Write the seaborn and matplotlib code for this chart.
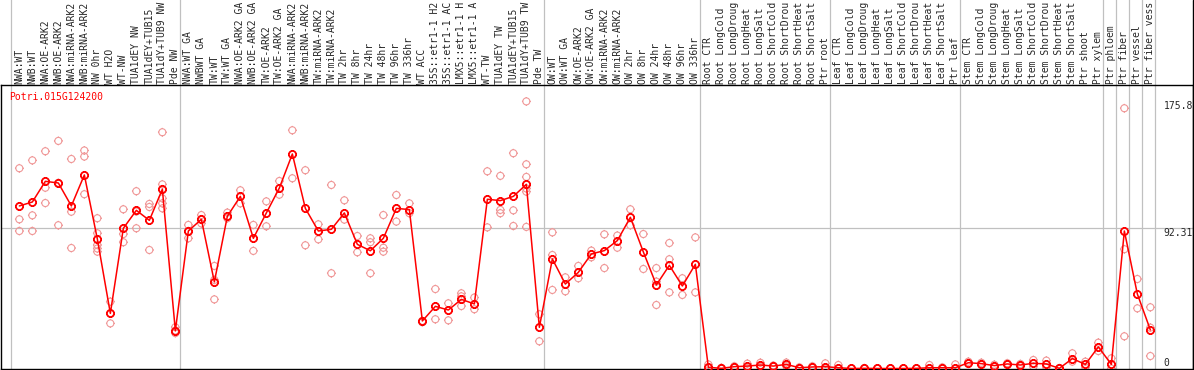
import matplotlib
matplotlib.use("Agg")
import matplotlib.pyplot as plt
import matplotlib.transforms as mtransforms
from matplotlib.path import Path
from matplotlib.lines import Line2D
import seaborn as sns
import pandas as pd

gene = "Potri.015G124200"

labels = ["NWA:WT", "NWB:WT", "NWA:OE-ARK2", "NWB:OE-ARK2", "NWA:miRNA-ARK2", "NWB:miRNA-ARK2",
          "NW 0hr", "WT H2O", "WT-NW", "TUA1dEY NW", "TUA1dEY+TUB15", "TUA1dY+TUB9 NW", "Pde NW",
          "NWA:WT GA", "NWBWT GA", "TW:WT", "TW:WT GA", "NWA:OE-ARK2 GA", "NWB:OE-ARK2 GA",
          "TW:OE-ARK2", "TW:OE-ARK2 GA", "NWA:miRNA-ARK2", "NWB:miRNA-ARK2", "TW:miRNA-ARK2",
          "TW:miRNA-ARK2", "TW 2hr", "TW 8hr", "TW 24hr", "TW 48hr", "TW 96hr", "TW 336hr",
          "WT ACC", "35S::etr1-1 H2", "35S::etr1-1 AC", "LMX5::etr1-1 H", "LMX5::etr1-1 A",
          "WT-TW", "TUA1dEY TW", "TUA1dEY+TUB15", "TUA1dY+TUB9 TW", "Pde TW",
          "OW:WT", "OW:WT GA", "OW:OE-ARK2", "OW:OE-ARK2 GA", "OW:miRNA-ARK2", "OW:miRNA-ARK2",
          "OW 2hr", "OW 8hr", "OW 24hr", "OW 48hr", "OW 96hr", "OW 336hr",
          "Root CTR", "Root LongCold", "Root LongDroug", "Root LongHeat", "Root LongSalt",
          "Root ShortCold", "Root ShortDrou", "Root ShortHeat", "Root ShortSalt", "Ptr root",
          "Leaf CTR", "Leaf LongCold", "Leaf LongDroug", "Leaf LongHeat", "Leaf LongSalt",
          "Leaf ShortCold", "Leaf ShortDrou", "Leaf ShortHeat", "Leaf ShortSalt", "Ptr leaf",
          "Stem CTR", "Stem LongCold", "Stem LongDroug", "Stem LongHeat", "Stem LongSalt",
          "Stem ShortCold", "Stem ShortDrou", "Stem ShortHeat", "Stem ShortSalt", "Ptr shoot",
          "Ptr xylem", "Ptr phloem", "Ptr fiber", "Ptr vessel", "Ptr fiber vess"]

means = [107.0, 109.6, 123.2, 122.1, 107.0, 127.4, 85.2, 36.3, 92.3, 104.1, 97.5, 118.0, 24.9,
         90.5, 98.2, 57.0, 100.2, 113.3, 85.7, 102.4, 118.8, 141.2, 105.4, 90.5, 91.6, 102.4,
         81.7, 77.5, 85.7, 105.4, 104.6, 31.3, 40.9, 38.5, 45.5, 42.5, 111.4, 110.5, 113.3,
         121.2, 27.1,
         72.1, 55.6, 63.3, 75.4, 77.6, 84.2, 99.5, 76.7, 55.0, 67.9, 54.3, 68.6,
         0.8, 0.1, 1.2, 1.6, 2.3, 1.6, 2.7, 0.5, 1.0, 1.2,
         0.5, 0.0, 0.1, 0.0, 0.0, 0.0, 0.1, 0.5, 0.5, 0.5,
         3.8, 3.2, 1.9, 3.0, 2.3, 3.4, 3.0, 0.1, 6.5, 2.7,
         14.2, 2.7, 90.5, 49.0, 25.4]

replicates = [[131.8, 98.2, 90.5], [137.0, 100.8, 90.5], [143.0, 119.0, 108.9],
              [149.8, 122.2, 94.3], [137.9, 103.2, 79.3], [143.5, 139.5, 114.7],
              [98.9, 89.0, 81.3, 79.0, 76.9], [44.0, 36.3, 29.7], [104.8, 88.5, 83.1],
              [116.7, 103.3, 92.3], [108.3, 106.3, 78.0],
              [155.5, 121.2, 118.0, 112.0, 108.7, 105.4], [27.2, 25.0, 23.3],
              [94.5, 85.7, 90.5], [101.0, 95.5, 98.2], [67.5, 58.3, 45.5], [102.6, 98.9],
              [117.3, 108.7], [94.5, 77.4], [110.0, 93.6], [123.4, 114.4], [156.8, 125.2],
              [130.5, 81.1], [94.9, 85.0], [120.8, 62.7], [110.7, 98.0], [87.2, 76.5],
              [85.7, 83.1, 62.7], [101.0, 79.5, 76.9], [114.2, 96.7], [108.7, 102.2],
              [31.3, 30.5], [52.3, 32.4], [42.9, 31.7], [49.5, 47.5, 41.1], [46.7, 39.0],
              [129.8, 92.9], [126.8, 104.4, 102.2], [141.7, 104.1, 93.8],
              [175.8, 134.4, 126.1, 118.5, 116.4, 93.2], [35.7, 17.9],
              [89.6, 74.7, 51.7], [60.0, 50.8], [67.5, 59.4], [77.6, 73.2], [88.3, 66.1],
              [87.5, 79.5], [104.8, 94.3], [88.5, 65.5], [66.1, 57.2, 41.8],
              [82.6, 71.9, 50.1], [59.4, 48.4], [86.3, 50.1],
              [2.7, 0.3], [0.5, 0.0], [1.5, 0.8], [3.2, 0.3], [3.8, 1.0], [2.0, 1.2],
              [3.9, 1.5], [0.8, 0.2], [1.5, 0.5], [3.4, 0.0],
              [2.3, 0.0], [0.0, 0.0], [0.3, 0.0], [0.0, 0.0], [0.0, 0.0], [0.0, 0.0],
              [0.0, 0.0], [2.3, 0.0], [0.8, 0.2], [2.7, 0.0],
              [4.5, 3.0], [3.8, 2.5], [2.5, 1.2], [3.5, 2.5], [3.0, 1.5], [5.6, 1.2],
              [5.2, 0.8], [0.3, 0.0], [10.0, 4.5], [4.5, 0.8],
              [17.0, 11.5], [6.7, 0.0], [171.3, 78.5, 21.2], [58.9, 39.6], [40.3, 26.9, 8.2]]

# samples after which a separator line is drawn
group_ends = [-1, 12, 40, 52, 62, 72, 83, 84, 85, 86, 87]
y_ticks = [175.8, 92.31, 0]

mean_df = pd.DataFrame({"sample": range(len(means)), "value": means})
rep_df = pd.DataFrame([(i, v) for i, vals in enumerate(replicates) for v in vals],
                      columns=["sample", "value"])

sns.set_style("white")
plt.rcParams["font.family"] = ["DejaVu Sans Mono"]

# circle with four short ticks, like the original marker
tick = Path([(0, 1), (0, 1.25), (0, -1), (0, -1.25), (1, 0), (1.25, 0), (-1, 0), (-1.25, 0)],
            [Path.MOVETO, Path.LINETO] * 4)
mark = Path.make_compound_path(Path.unit_circle(), tick)

fig = plt.figure(figsize=(11.94, 3.70), dpi=100)
ax = fig.add_axes([0.5 / 1194, 1 / 370, 1192.5 / 1194, 284 / 370])
ax.set_xlim(-1.45, 90.28)
ax.set_ylim(-0.33, 186.6)

for e in group_ends:
    ax.axvline(e + 0.38, ymin=0, ymax=1.31, color="#c0c0c0", lw=0.9, clip_on=False, zorder=0.5)
ax.axhline(y_ticks[1], color="#c0c0c0", lw=0.9, zorder=0.5)

sns.scatterplot(data=rep_df, x="sample", y="value", marker=mark, s=40, facecolor="none",
                edgecolor="#f09898", linewidth=0.8, ax=ax, zorder=2, legend=False)
sns.lineplot(data=mean_df, x="sample", y="value", color="red", lw=1.1, marker=mark, ms=6.4,
             mfc="none", mec="red", mew=1.3, ax=ax, zorder=3, legend=False)

ax.set_xticks([])
ax.set_yticks([])
ax.set_xlabel("")
ax.set_ylabel("")
for s in ax.spines.values():
    s.set_color("black")
    s.set_linewidth(1.0)

trans = mtransforms.blended_transform_factory(ax.transData, ax.transAxes)
for i, lab in enumerate(labels):
    ax.text(i, 1.004, lab, rotation=90, ha="center", va="bottom", fontsize=7,
            transform=trans, clip_on=False)

ax.text(0.0074, 0.957, gene, color="red", fontsize=7, ha="left", va="center",
        transform=ax.transAxes)
ax.text(88.03, y_ticks[0], "175.8", fontsize=7, ha="left", va="top")
ax.text(88.03, y_ticks[1], "92.31", fontsize=7, ha="left", va="top")
ax.text(88.03, y_ticks[2], "0", fontsize=7, ha="left", va="bottom")

fig.add_artist(Line2D([1193 / 1194, 1193 / 1194], [0, 1], color="black", lw=1.0))

fig.savefig("out.png", dpi=100)
